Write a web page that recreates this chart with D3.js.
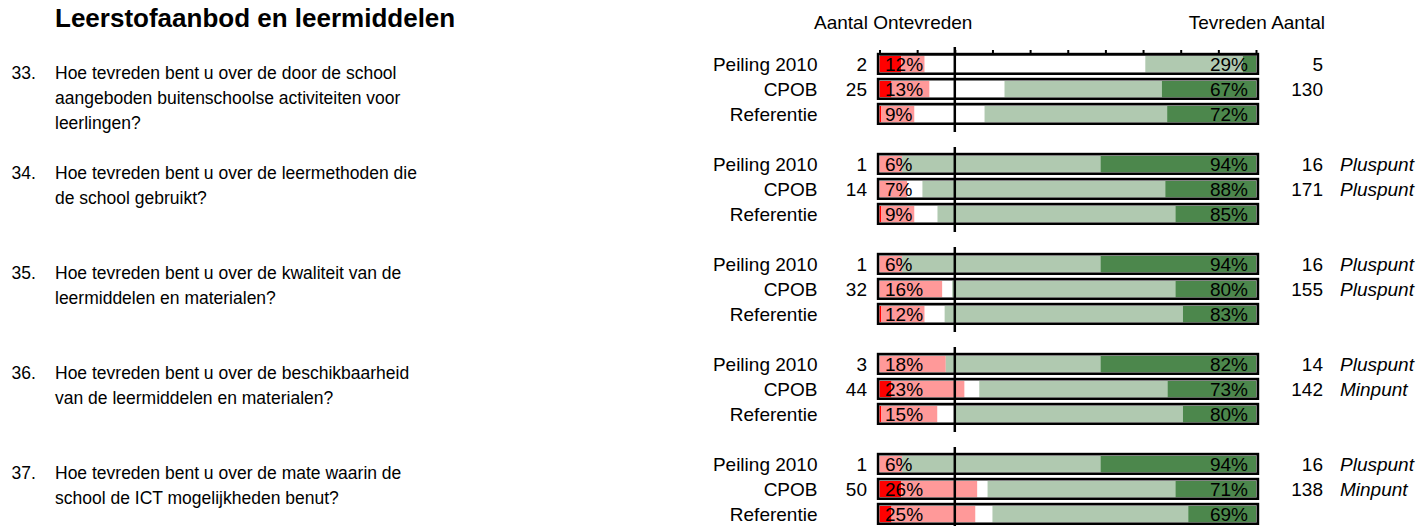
<!DOCTYPE html>
<html>
<head>
<meta charset="utf-8">
<script src="https://cdn.jsdelivr.net/npm/d3@7"></script>
<style>
  body { margin: 0; background: #fff; }
  svg { display: block; font-family: "Liberation Sans", Arial, sans-serif; }
</style>
</head>
<body>
<svg width="1423" height="526"></svg>
<script>
"use strict";

// questions (number + wrapped lines)
var questionNrs = ["33.", "34.", "35.", "36.", "37."];
var questionLines = [
    ["Hoe tevreden bent u over de door de school", "aangeboden buitenschoolse activiteiten voor", "leerlingen?"],
    ["Hoe tevreden bent u over de leermethoden die", "de school gebruikt?"],
    ["Hoe tevreden bent u over de kwaliteit van de", "leermiddelen en materialen?"],
    ["Hoe tevreden bent u over de beschikbaarheid", "van de leermiddelen en materialen?"],
    ["Hoe tevreden bent u over de mate waarin de", "school de ICT mogelijkheden benut?"]
];
var rowLabels = ["Peiling 2010", "CPOB", "Referentie"];

// segments per row: zeer ontevreden, ontevreden, neutraal, tevreden, zeer tevreden (%)
var segments = [
    [[5.8, 6.2, 58.6, 25.9, 3.5], [3.2, 10.1, 19.9, 41.8, 25.0], [0.5, 8.8, 18.6, 48.5, 23.6]],
    [[0, 6.0, 0, 52.7, 41.3], [0, 7.3, 4.1, 64.5, 24.1], [0.5, 8.8, 6.1, 63.2, 21.4]],
    [[0, 6.0, 0, 52.7, 41.3], [0, 16.7, 2.6, 59.3, 21.4], [0.5, 11.5, 5.3, 63.3, 19.4]],
    [[0, 17.6, 0, 41.1, 41.3], [3.2, 19.4, 3.9, 50.0, 23.5], [0.5, 14.9, 4.8, 60.4, 19.4]],
    [[0, 6.0, 0, 52.7, 41.3], [5.8, 20.2, 2.7, 49.9, 21.4], [3.2, 22.3, 4.5, 52.0, 18.0]]
];
var pctOntevreden = [[12, 13, 9], [6, 7, 9], [6, 16, 12], [18, 23, 15], [6, 26, 25]];
var pctTevreden = [[29, 67, 72], [94, 88, 85], [94, 80, 83], [82, 73, 80], [94, 71, 69]];
var aantalOntevreden = [[2, 25, null], [1, 14, null], [1, 32, null], [3, 44, null], [1, 50, null]];
var aantalTevreden = [[5, 130, null], [16, 171, null], [16, 155, null], [14, 142, null], [16, 138, null]];
var oordeel = [[null, null], ["Pluspunt", "Pluspunt"], ["Pluspunt", "Pluspunt"], ["Pluspunt", "Minpunt"], ["Pluspunt", "Minpunt"]];

var segColors = ["#ff0000", "#ff9999", "#ffffff", "#b0c9b0", "#4c874c"];
var midValue = 20;

var svg = d3.select("svg");

var x = d3.scaleLinear().domain([0, 100]).range([879.5, 1256]);
var groupY = d3.scaleLinear().domain([0, 4]).range([64, 464]);
var rowY = d3.scaleLinear().domain([0, 2]).range([0, 50]);

// title
svg.append("text")
    .attr("x", 55).attr("y", 27)
    .attr("font-size", 26).attr("font-weight", "bold")
    .text("Leerstofaanbod en leermiddelen");

// column headers
svg.append("text").attr("x", 814).attr("y", 28.5).attr("font-size", 19).text("Aantal Ontevreden");
svg.append("text").attr("x", 1325).attr("y", 28.5).attr("font-size", 19)
    .attr("text-anchor", "end").text("Tevreden Aantal");

// rows as flat list
var rows = [];
segments.forEach(function(g, gi) {
    g.forEach(function(s, ri) {
        var cum = 0;
        var parts = s.map(function(v, k) {
            var p = {x0: cum, x1: cum + v, k: k};
            cum += v;
            return p;
        });
        rows.push({g: gi, r: ri, cy: groupY(gi) + rowY(ri), parts: parts});
    });
});

// questions
var q = svg.selectAll("g.question").data(questionNrs).enter().append("g").attr("class", "question");
q.append("text")
    .attr("x", 11.5)
    .attr("y", function(d, i) { return groupY(i) + 14.5; })
    .attr("font-size", 17.5)
    .text(function(d) { return d; });
q.each(function(d, i) {
    d3.select(this).selectAll("text.line").data(questionLines[i]).enter().append("text")
        .attr("class", "line")
        .attr("x", 55)
        .attr("y", function(l, j) { return groupY(i) + 14.5 + j * 25; })
        .attr("font-size", 17.5)
        .text(function(l) { return l; });
});

var row = svg.selectAll("g.row").data(rows).enter().append("g").attr("class", "row");

// row label & counts
row.append("text")
    .attr("x", 817.5).attr("y", function(d) { return d.cy + 7; })
    .attr("text-anchor", "end").attr("font-size", 19)
    .text(function(d) { return rowLabels[d.r]; });
row.append("text")
    .attr("x", 867).attr("y", function(d) { return d.cy + 7; })
    .attr("text-anchor", "end").attr("font-size", 19)
    .text(function(d) { var v = aantalOntevreden[d.g][d.r]; return v === null ? "" : v; });
row.append("text")
    .attr("x", 1323).attr("y", function(d) { return d.cy + 7; })
    .attr("text-anchor", "end").attr("font-size", 19)
    .text(function(d) { var v = aantalTevreden[d.g][d.r]; return v === null ? "" : v; });
row.append("text")
    .attr("x", 1340).attr("y", function(d) { return d.cy + 7; })
    .attr("font-size", 19).attr("font-style", "italic")
    .text(function(d) { var v = d.r < 2 ? oordeel[d.g][d.r] : null; return v || ""; });

// inner grey frame
row.append("rect")
    .attr("x", x(0) - 0.5).attr("y", function(d) { return d.cy - 8.6; })
    .attr("width", x(100) - x(0) + 1).attr("height", 17.4)
    .attr("fill", "#fff").attr("stroke", "#999").attr("stroke-width", 1);

// segments
row.selectAll("rect.seg").data(function(d) { return d.parts.map(function(p) { p.cy = d.cy; return p; }); })
    .enter().append("rect").attr("class", "seg")
    .attr("x", function(p) { return x(p.x0); })
    .attr("y", function(p) { return p.cy - 8; })
    .attr("width", function(p) { return Math.max(0, x(p.x1) - x(p.x0)); })
    .attr("height", 16.2)
    .attr("fill", function(p) { return segColors[p.k]; });

// outer black border
row.append("rect")
    .attr("x", 878).attr("y", function(d) { return d.cy - 10; })
    .attr("width", 380).attr("height", 19.8)
    .attr("fill", "none").attr("stroke", "#000").attr("stroke-width", 2.4);

// percentages
row.append("text")
    .attr("x", x(0) + 5.5).attr("y", function(d) { return d.cy + 7; })
    .attr("font-size", 19)
    .text(function(d) { return pctOntevreden[d.g][d.r] + "%"; });
row.append("text")
    .attr("x", x(100) - 8).attr("y", function(d) { return d.cy + 7; })
    .attr("font-size", 19).attr("text-anchor", "end")
    .text(function(d) { return pctTevreden[d.g][d.r] + "%"; });

// vertical reference line per question
svg.selectAll("line.mid").data(questionNrs).enter().append("line")
    .attr("class", "mid")
    .attr("x1", x(midValue)).attr("x2", x(midValue))
    .attr("y1", function(d, i) { return groupY(i) - 17; })
    .attr("y2", function(d, i) { return groupY(i) + rowY(2) + 18; })
    .attr("stroke", "#000").attr("stroke-width", 2.5);

// axis on top of first group
var axis = svg.append("g")
    .attr("transform", "translate(0," + (groupY(0) - 10) + ")")
    .call(d3.axisTop(x).tickValues(d3.range(0, 101, 10)).tickSize(4).tickSizeOuter(0).tickFormat(""));
axis.select(".domain").attr("stroke", "#000").attr("stroke-width", 2);
axis.selectAll(".tick line").attr("stroke", "#000").attr("stroke-width", 2);
</script>
</body>
</html>
